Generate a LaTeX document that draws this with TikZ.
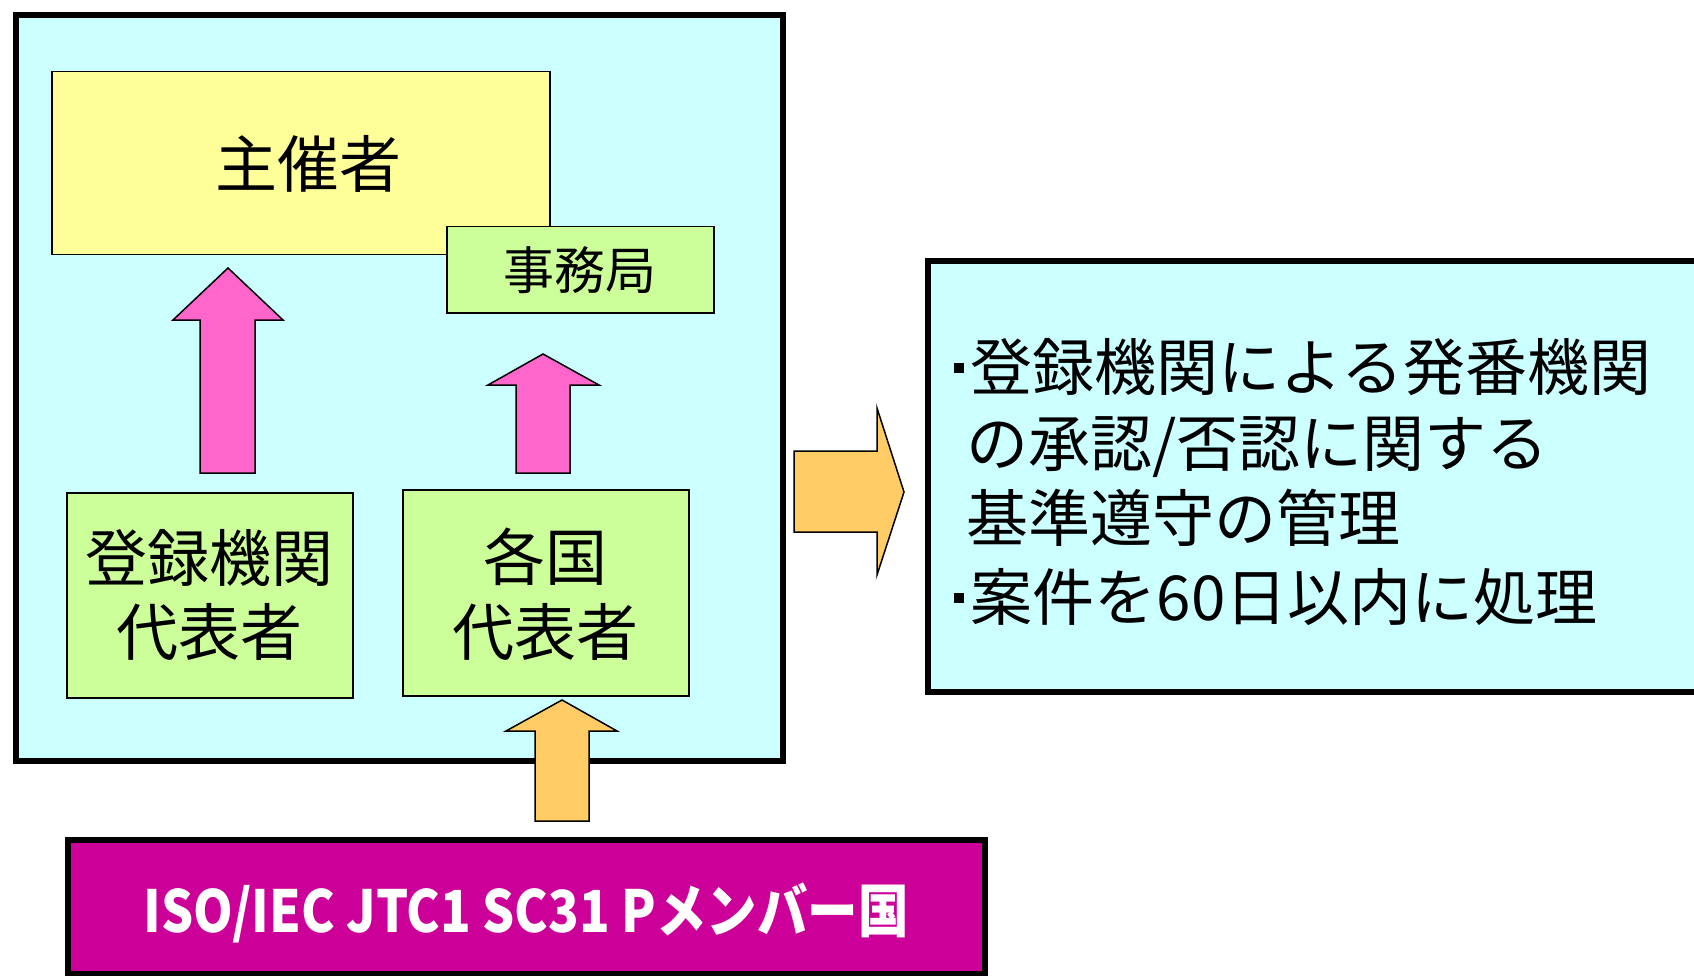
\documentclass[tikz,border=0pt]{standalone}
\usepackage{fontspec}
\newfontfamily\jp{Noto Sans CJK JP}
\definecolor{bgcyan}{HTML}{CCFFFF}
\definecolor{yel}{HTML}{FFFF99}
\definecolor{lgreen}{HTML}{CCFF99}
\definecolor{pinkc}{HTML}{FF66CC}
\definecolor{orng}{HTML}{FFCC66}
\definecolor{magc}{HTML}{CC0099}
\tikzset{
  bigframe/.style={draw=black, line width=6pt, fill=bgcyan, anchor=north west, inner sep=0pt},
  boxthin/.style={draw=black, line width=1.5pt, anchor=north west, inner sep=0pt},
  lbl/.style={font=\jp\fontsize{62}{72}\selectfont, inner sep=0pt, align=center},
  blockarrow/.style={draw=black, line width=1.5pt, line join=miter},
  rtext/.style={font=\jp\fontsize{62}{72}\selectfont, inner sep=0pt, anchor=base west}
}
\newcommand{\sqbul}{\rule[0.28em]{0.15em}{0.15em}\hspace{0.12em}}
\begin{document}
\begin{tikzpicture}[x=1pt,y=-1pt]
\useasboundingbox (0,0) rectangle (1694,976);
\clip (0,0) rectangle (1694,976);
\fill[white] (0,0) rectangle (1694,976);
% left frame
\node[bigframe, minimum width=767pt, minimum height=746pt] (frame) at (13,12) {};
% organizer
\node[boxthin, fill=yel, minimum width=498pt, minimum height=183pt] (org) at (51,71) {};
\node[lbl] (orgt) at (308,164) {主催者};
\node[boxthin, fill=lgreen, minimum width=267pt, minimum height=86pt] (sec) at (446,226) {};
\node[lbl, font=\jp\fontsize{51}{60}\selectfont] (sect) at (sec.center) {事務局};
% lower boxes
\node[boxthin, fill=lgreen, minimum width=286pt, minimum height=205pt] (ra) at (66,492) {};
\node[lbl] (rat1) at (209,558) {登録機関};
\node[lbl] (rat2) at (209,632) {代表者};
\node[boxthin, fill=lgreen, minimum width=286pt, minimum height=206pt] (nb) at (402,489) {};
\node[lbl] (nbt1) at (545,557) {各国};
\node[lbl] (nbt2) at (545,632) {代表者};
% pink arrows
\draw[blockarrow, fill=pinkc] (200,473) -- (200,320) -- (173,320) -- (228,268) -- (283,320) -- (255,320) -- (255,473) -- cycle;
\draw[blockarrow, fill=pinkc] (516,473) -- (516,385) -- (488,385) -- (543,354) -- (599,385) -- (570,385) -- (570,473) -- cycle;
% right box
\node[bigframe, minimum width=800pt, minimum height=431pt] (res) at (925,258) {};
\node[rtext] (r1) at (954,390) {\sqbul 登録機関による発番機関};
\node[rtext] (r2) at (966,466) {の承認/否認に関する};
\node[rtext] (r3) at (966,541) {基準遵守の管理};
\node[rtext] (r4) at (954,620) {\sqbul 案件を60日以内に処理};
% orange right arrow
\draw[blockarrow, fill=orng] (794,451) -- (877,451) -- (877,408) -- (904,492) -- (877,575) -- (877,532) -- (794,532) -- cycle;
% bottom box
\node[bigframe, fill=magc, minimum width=917pt, minimum height=134pt] (pm) at (65,837) {};
\node[inner sep=0pt, text=white] (pmt) at (526,913) {\scalebox{0.87}[1]{\jp\bfseries\fontsize{58}{70}\selectfont ISO/IEC JTC1 SC31 Pメンバー国}};
% orange up arrow
\draw[blockarrow, fill=orng] (535,821) -- (535,731) -- (506,731) -- (562,700) -- (617,731) -- (589,731) -- (589,821) -- cycle;
\end{tikzpicture}
\end{document}
